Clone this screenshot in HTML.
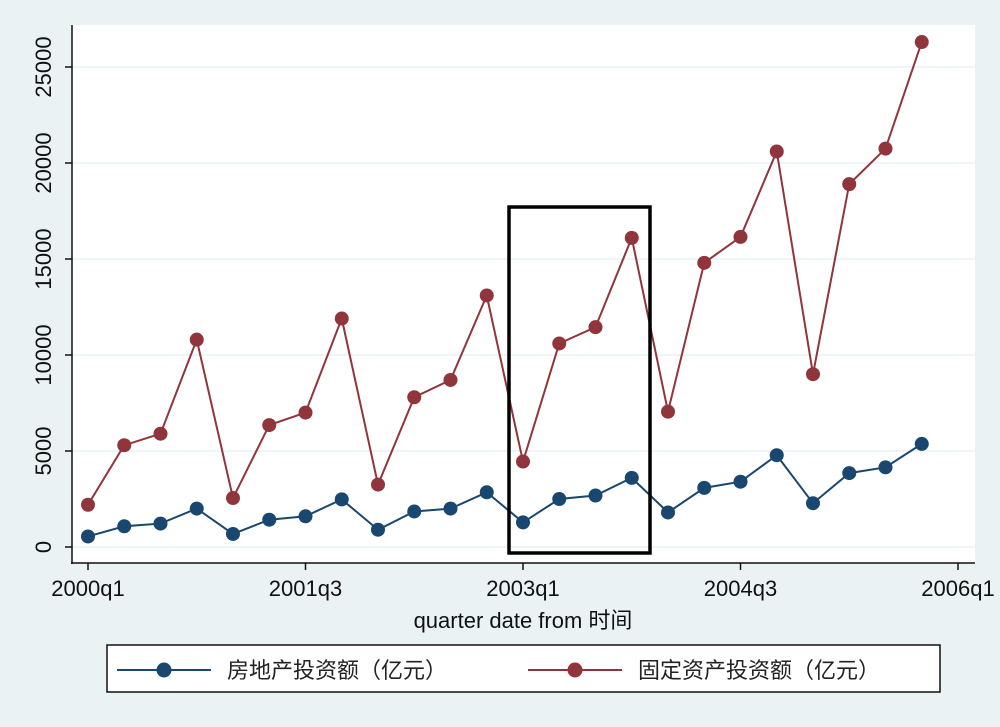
<!DOCTYPE html>
<html><head><meta charset="utf-8"><style>
body{margin:0;background:#EAF2F3;}
svg{display:block;font-family:"Liberation Sans","Noto Sans CJK SC",sans-serif;}
</style></head><body>
<svg id="c" width="1000" height="727">
<rect x="0" y="0" width="1000" height="727" fill="#EAF2F3"/>
<rect x="72" y="25" width="903" height="538" fill="#ffffff"/>
<g id="grid"></g><g id="axes"></g><g id="series"></g>
<rect x="509" y="207" width="141" height="346" fill="none" stroke="#000" stroke-width="3.5"/>
<text x="523" y="628" font-size="22" text-anchor="middle" fill="#111">quarter date from 时间</text>
<g>
<rect x="107" y="645" width="833" height="47" fill="#fff" stroke="#111" stroke-width="1.5"/>
<g>
<line x1="117" y1="670" x2="211" y2="670" stroke="#1A476F" stroke-width="2"/>
<circle cx="164" cy="670" r="7.5" fill="#1A476F"/>
<text x="227" y="678" font-size="22" fill="#222">房地产投资额（亿元）</text></g>
<g>
<line x1="528" y1="670" x2="622" y2="670" stroke="#90353B" stroke-width="2"/>
<circle cx="575" cy="670" r="7.5" fill="#90353B"/>
<text x="638" y="678" font-size="22" fill="#222">固定资产投资额（亿元）</text></g>
</g>
</svg>
<script>
const quarters=["2000q1","2000q2","2000q3","2000q4","2001q1","2001q2","2001q3","2001q4","2002q1","2002q2","2002q3","2002q4","2003q1","2003q2","2003q3","2003q4","2004q1","2004q2","2004q3","2004q4","2005q1","2005q2","2005q3","2005q4"];
const realEstate=[550,1080,1220,2000,680,1420,1600,2480,900,1850,2000,2850,1280,2500,2680,3600,1800,3080,3400,4780,2280,3850,4150,5370];
const fixedAssets=[2200,5300,5900,10800,2550,6350,7000,11900,3250,7800,8700,13100,4450,10600,11450,16100,7050,14800,16150,20600,9000,18900,20750,26300];
const yTicks=[0,5000,10000,15000,20000,25000];
const xTickLabels=["2000q1","2001q3","2003q1","2004q3","2006q1"];
const xTickIdx=[0,6,12,18,24];
const NS="http://www.w3.org/2000/svg";
const x=i=>88+i*36.25;
const y=v=>547-v*(480/25000);
function mk(tag,attrs,parent){const e=document.createElementNS(NS,tag);for(const k in attrs)e.setAttribute(k,attrs[k]);document.getElementById(parent).appendChild(e);return e;}
yTicks.forEach(v=>{
 const g=mk('line',{x1:72,x2:975,y1:y(v),y2:y(v),stroke:'#EAF2F3','stroke-width':1.5},'grid');
 
 
 const t=mk('line',{x1:65,x2:72,y1:y(v),y2:y(v),stroke:'#111','stroke-width':1.5},'axes');
 
 
 const l=mk('text',{x:0,y:0,'font-size':22,'text-anchor':'middle',fill:'#111',transform:`translate(51,${y(v)}) rotate(-90)`},'axes');
 l.textContent=v;
 
 
});
xTickIdx.forEach((i,k)=>{
 const t=mk('line',{x1:x(i),x2:x(i),y1:563,y2:570,stroke:'#111','stroke-width':1.5},'axes');
 
 
 const l=mk('text',{x:x(i),y:596,'font-size':22,'text-anchor':'middle',fill:'#111'},'axes');
 l.textContent=xTickLabels[k];
 
 
});
const ya=mk('line',{x1:72,x2:72,y1:25,y2:564,stroke:'#111','stroke-width':1.5},'axes');


const xa=mk('line',{x1:71,x2:975,y1:563,y2:563,stroke:'#111','stroke-width':1.5},'axes');


function series(vals,color,name){
 const p=mk('polyline',{points:vals.map((v,i)=>x(i)+','+y(v)).join(' '),fill:'none',stroke:color,'stroke-width':2},'series');
 
 
 vals.forEach((v,i)=>{
  const c=mk('circle',{cx:x(i),cy:y(v),r:7,fill:color},'series');
  
  
 });
}
series(fixedAssets,'#90353B','fixed-assets');
series(realEstate,'#1A476F','real-estate');
</script>
</body></html>
